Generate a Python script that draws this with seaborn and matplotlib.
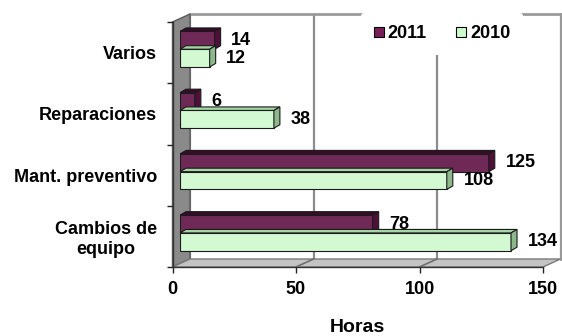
import pandas as pd
import matplotlib
matplotlib.use("Agg")
import matplotlib.pyplot as plt
from matplotlib.patches import Polygon
from matplotlib.lines import Line2D
from matplotlib.transforms import IdentityTransform
import seaborn as sns

# ---- data -------------------------------------------------------------
categorias = ["Varios", "Reparaciones", "Mant. preventivo", "Cambios de\nequipo"]
horas_2011 = [14, 6, 125, 78]
horas_2010 = [12, 38, 108, 134]
anios = ["2011", "2010"]
x_ticks = [0, 50, 100, 150]

df = pd.DataFrame({
    "categoria": categorias * 2,
    "anio": [anios[0]] * len(categorias) + [anios[1]] * len(categorias),
    "horas": horas_2011 + horas_2010,
})

# ---- style ------------------------------------------------------------
sns.set_theme(style="white")
plt.rcParams["font.family"] = ["Liberation Sans", "DejaVu Sans"]
plt.rcParams["font.weight"] = "bold"
for k in ("text.color", "axes.labelcolor", "xtick.color", "ytick.color"):
    plt.rcParams[k] = "black"

colores = {"2011": "#7A1E5A", "2010": "#CCFFCC"}
lado = {"2011": "#4E0F38", "2010": "#8CB88C"}
techo = {"2011": "#3A0A2A", "2010": "#A6D6A6"}
borde = "#1a1a1a"

W, H = 562, 336
fig = plt.figure(figsize=(W / 100, H / 100), dpi=100)


def rect(left, top, right, bottom):
    return [left / W, 1 - bottom / H, (right - left) / W, (bottom - top) / H]


# front face of the 3-D box and its depth vector (pixels, y down)
F_L, F_T, F_R, F_B = 172.5, 22, 543, 267
DX, DY = 17.5, -8
S = 0.43                 # depth where the bar fronts sit
BAR_DX, BAR_DY = 6, 3.5  # bar thickness (display units, y up)

ax_back = fig.add_axes(rect(F_L + DX, F_T + DY, F_R + DX, F_B + DY))
ax_over = fig.add_axes([0, 0, 1, 1])
ax_front = fig.add_axes(rect(F_L, F_T, F_R, F_B))
ax_bars = fig.add_axes(rect(F_L + S * DX, F_T + S * DY, F_R + S * DX, F_B + S * DY))
for z, a in enumerate([ax_back, ax_over, ax_front, ax_bars]):
    a.set_zorder(z)

# ---- back wall with gridlines -----------------------------------------
ax_back.set_xlim(0, 150)
ax_back.set_ylim(len(categorias) - 0.5, -0.5)
ax_back.set_xticks(x_ticks)
ax_back.set_yticks([])
ax_back.tick_params(axis="x", length=0, labelbottom=False)
ax_back.grid(axis="x", color="#8c8c8c", lw=1.6)
for side, sp in ax_back.spines.items():
    if side in ("top", "right"):
        sp.set_color("#9a9a9a")
        sp.set_linewidth(2)
    else:
        sp.set_visible(False)
ax_back.set_facecolor("white")

# ---- side wall and floor ----------------------------------------------
ax_over.set_xlim(0, W)
ax_over.set_ylim(H, 0)
ax_over.axis("off")
ax_over.patch.set_alpha(0)
pared = [(F_L, F_T), (F_L + DX, F_T + DY), (F_L + DX, F_B + DY), (F_L, F_B)]
piso = [(F_L, F_B), (F_R, F_B), (F_R + DX, F_B + DY), (F_L + DX, F_B + DY)]
ax_over.add_patch(Polygon(pared, closed=True, fc="#8a8a8a", ec="#5a5a5a", lw=1))
ax_over.add_patch(Polygon(piso, closed=True, fc="#c4c4c4", ec="#7a7a7a", lw=1))
for v in x_ticks[1:-1]:
    px = F_L + v / x_ticks[-1] * (F_R - F_L)
    ax_over.plot([px, px + DX], [F_B, F_B + DY], color="#6e6e6e", lw=1.2)

# ---- front axes: ticks and labels -------------------------------------
ax_front.patch.set_alpha(0)
ax_front.set_xlim(0, 150)
ax_front.set_ylim(len(categorias) - 0.5, -0.5)
ax_front.set_xticks(x_ticks)
ax_front.set_xticklabels([str(t) for t in x_ticks], fontsize=13, fontweight="bold")
ax_front.set_yticks(range(len(categorias)))
ax_front.set_yticklabels(categorias, fontsize=13, fontweight="bold",
                         multialignment="center")
ax_front.set_yticks([i - 0.5 for i in range(len(categorias) + 1)], minor=True)
ax_front.tick_params(axis="y", which="major", length=0, pad=11)
ax_front.tick_params(axis="y", which="minor", length=4, width=1, color="#222222",
                     direction="out", left=True)
ax_front.tick_params(axis="x", length=4, width=1, color="#222222", direction="out",
                     bottom=True, pad=6)
for side, sp in ax_front.spines.items():
    if side in ("left", "bottom"):
        sp.set_color("#333333")
        sp.set_linewidth(1)
    else:
        sp.set_visible(False)
ax_front.set_xlabel("Horas", fontsize=14, fontweight="bold", labelpad=15)
ax_front.set_ylabel("")

# ---- bars --------------------------------------------------------------
sns.barplot(data=df, y="categoria", x="horas", hue="anio", hue_order=anios,
            order=categorias, palette=colores, orient="h", width=0.58,
            edgecolor=borde, linewidth=0.8, ax=ax_bars, legend=False)
ax_bars.set_xlim(0, 150)
ax_bars.set_ylim(len(categorias) - 0.5, -0.5)
ax_bars.axis("off")
ax_bars.patch.set_alpha(0)

# extrude each bar: side face and top face
for anio, cont in zip(anios, ax_bars.containers):
    for bar in cont:
        x0, y0, w, h = bar.get_x(), bar.get_y(), bar.get_width(), bar.get_height()
        (xa, ya), (xb, yb) = ax_bars.transData.transform([(x0, y0), (x0 + w, y0 + h)])
        left, right = min(xa, xb), max(xa, xb)
        low, high = min(ya, yb), max(ya, yb)
        top_face = [(left, high), (right, high), (right + BAR_DX, high + BAR_DY),
                    (left + BAR_DX, high + BAR_DY)]
        side_face = [(right, low), (right, high), (right + BAR_DX, high + BAR_DY),
                     (right + BAR_DX, low + BAR_DY)]
        for pts, fc in ((top_face, techo[anio]), (side_face, lado[anio])):
            ax_bars.add_patch(Polygon(pts, closed=True, fc=fc, ec=borde, lw=0.8,
                                      transform=IdentityTransform(), clip_on=False))
    ax_bars.bar_label(cont, fmt="%d", padding=12, fontsize=13, fontweight="bold",
                      color="black")

# ---- legend ------------------------------------------------------------
handles = [Line2D([], [], marker="s", ls="", markersize=6.5, markerfacecolor=colores[a],
                  markeredgecolor="black", markeredgewidth=0.8) for a in anios]
leg = fig.legend(handles, anios, ncol=2, loc="center",
                 bbox_to_anchor=(442 / W, 1 - 34 / H), frameon=True,
                 facecolor="white", edgecolor="white", framealpha=1,
                 prop={"size": 13, "weight": "bold"}, handlelength=0.6,
                 handletextpad=0.2, columnspacing=1.6, borderpad=0.7)
leg.get_frame().set_linewidth(0)

fig.savefig("out.png", dpi=100)
